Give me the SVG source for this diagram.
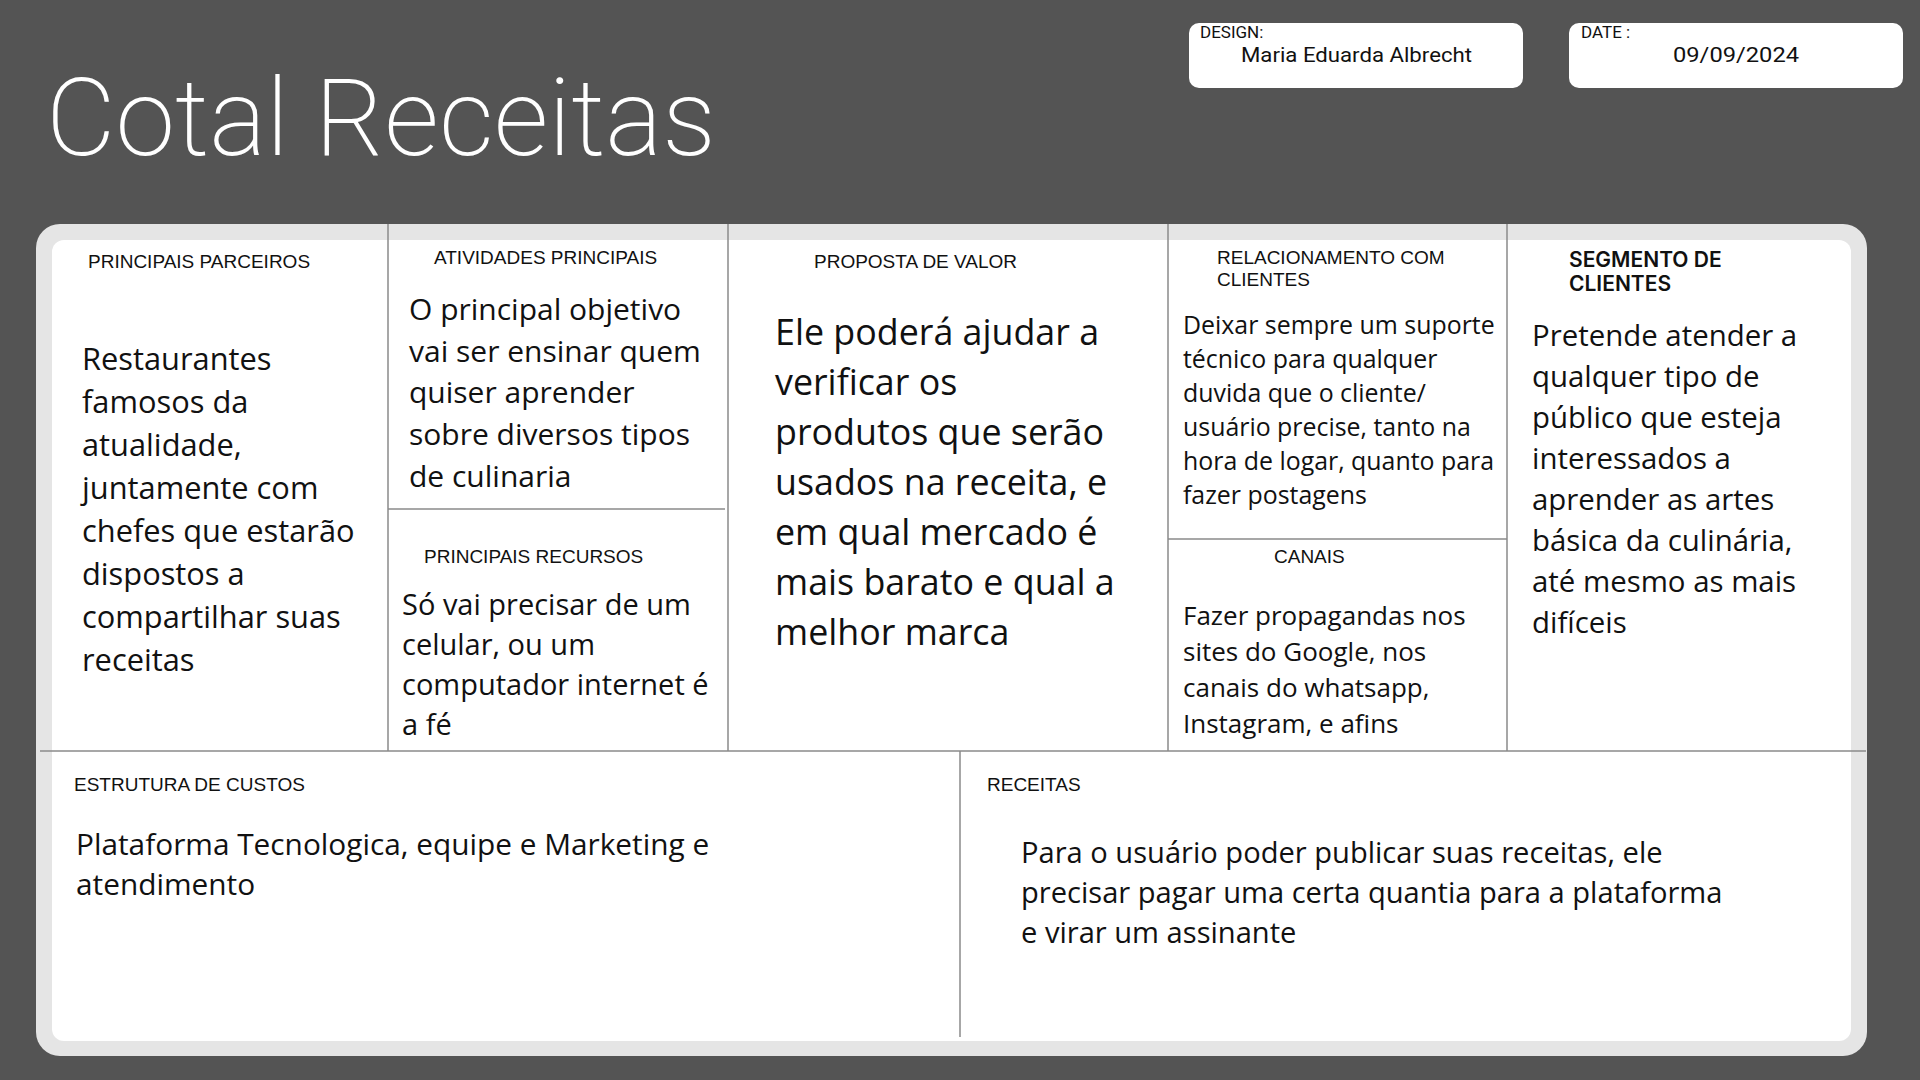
<svg xmlns="http://www.w3.org/2000/svg" width="1920" height="1080" viewBox="0 0 1920 1080">
<style>
.hdr{font-family:"Liberation Sans",Arial,sans-serif;font-size:19px;fill:#111}
.hdrb{font-family:Inter,"Liberation Sans",sans-serif;font-size:21px;font-weight:600;fill:#111}
.body{font-family:"Open Sans","Noto Sans",sans-serif;fill:#111}
.ln{stroke:#8a8a8a;stroke-width:1.5;fill:none}
.meta{font-family:Roboto,"Liberation Sans",sans-serif;fill:#111}
</style>
<rect width="1920" height="1080" fill="#545454"/>
<text x="46" y="155" font-family="Roboto,'Liberation Sans',sans-serif" font-weight="200" font-size="108" fill="#fff" textLength="670" lengthAdjust="spacingAndGlyphs">Cotal Receitas</text>
<g id="design">
<rect x="1189" y="23" width="334" height="65" rx="10" fill="#fff"/>
<text class="meta" x="1200" y="38" font-size="17">DESIGN:</text>
<text class="meta" x="1241" y="62" font-size="21" textLength="231" lengthAdjust="spacingAndGlyphs">Maria Eduarda Albrecht</text>
</g>
<g id="date">
<rect x="1569" y="23" width="334" height="65" rx="10" fill="#fff"/>
<text class="meta" x="1581" y="38" font-size="17">DATE :</text>
<text class="meta" x="1673" y="62" font-size="21" textLength="126" lengthAdjust="spacingAndGlyphs">09/09/2024</text>
</g>
<g id="canvas">
<rect x="36" y="224" width="1831" height="832" rx="24" fill="#e5e5e5"/>
<rect x="52" y="240" width="1799" height="801" rx="12" fill="#fff"/>
</g>
<g id="connectors">
<line class="ln" x1="388" y1="224" x2="388" y2="751"/>
<line class="ln" x1="728" y1="224" x2="728" y2="751"/>
<line class="ln" x1="1168" y1="224" x2="1168" y2="751"/>
<line class="ln" x1="1507" y1="224" x2="1507" y2="751"/>
<line class="ln" x1="40" y1="751" x2="1866" y2="751"/>
<line class="ln" x1="388" y1="509" x2="725" y2="509"/>
<line class="ln" x1="1168" y1="539" x2="1507" y2="539"/>
<line class="ln" x1="960" y1="751" x2="960" y2="1037"/>
</g>
<g id="parceiros">
<text class="hdr" x="88" y="268">PRINCIPAIS PARCEIROS</text>
<text class="body" font-size="30.8">
<tspan x="82" y="370">Restaurantes</tspan>
<tspan x="82" y="413">famosos da</tspan>
<tspan x="82" y="456">atualidade,</tspan>
<tspan x="82" y="499">juntamente com</tspan>
<tspan x="82" y="542">chefes que estarão</tspan>
<tspan x="82" y="585">dispostos a</tspan>
<tspan x="82" y="628">compartilhar suas</tspan>
<tspan x="82" y="671">receitas</tspan>
</text>
</g>
<g id="atividades">
<text class="hdr" x="434" y="264">ATIVIDADES PRINCIPAIS</text>
<text class="body" font-size="30">
<tspan x="409" y="320">O principal objetivo</tspan>
<tspan x="409" y="362">vai ser ensinar quem</tspan>
<tspan x="409" y="403">quiser aprender</tspan>
<tspan x="409" y="445">sobre diversos tipos</tspan>
<tspan x="409" y="487">de culinaria</tspan>
</text>
</g>
<g id="recursos">
<text class="hdr" x="424" y="563">PRINCIPAIS RECURSOS</text>
<text class="body" font-size="29">
<tspan x="402" y="615">Só vai precisar de um</tspan>
<tspan x="402" y="655">celular, ou um</tspan>
<tspan x="402" y="695">computador internet é</tspan>
<tspan x="402" y="735">a fé</tspan>
</text>
</g>
<g id="proposta">
<text class="hdr" x="814" y="268">PROPOSTA DE VALOR</text>
<text class="body" font-size="35.8">
<tspan x="775" y="345">Ele poderá ajudar a</tspan>
<tspan x="775" y="395">verificar os</tspan>
<tspan x="775" y="445">produtos que serão</tspan>
<tspan x="775" y="495">usados na receita, e</tspan>
<tspan x="775" y="545">em qual mercado é</tspan>
<tspan x="775" y="595">mais barato e qual a</tspan>
<tspan x="775" y="645">melhor marca</tspan>
</text>
</g>
<g id="relacionamento">
<text class="hdr" x="1217" y="264">RELACIONAMENTO COM</text>
<text class="hdr" x="1217" y="286">CLIENTES</text>
<text class="body" font-size="24.9">
<tspan x="1183" y="334">Deixar sempre um suporte</tspan>
<tspan x="1183" y="368">técnico para qualquer</tspan>
<tspan x="1183" y="402">duvida que o cliente/</tspan>
<tspan x="1183" y="436">usuário precise, tanto na</tspan>
<tspan x="1183" y="470">hora de logar, quanto para</tspan>
<tspan x="1183" y="504">fazer postagens</tspan>
</text>
</g>
<g id="canais">
<text class="hdr" x="1274" y="563">CANAIS</text>
<text class="body" font-size="26">
<tspan x="1183" y="625">Fazer propagandas nos</tspan>
<tspan x="1183" y="661">sites do Google, nos</tspan>
<tspan x="1183" y="697">canais do whatsapp,</tspan>
<tspan x="1183" y="733">Instagram, e afins</tspan>
</text>
</g>
<g id="segmento">
<text class="hdrb" x="1569" y="267">SEGMENTO DE</text>
<text class="hdrb" x="1569" y="291">CLIENTES</text>
<text class="body" font-size="29.4">
<tspan x="1532" y="346">Pretende atender a</tspan>
<tspan x="1532" y="387">qualquer tipo de</tspan>
<tspan x="1532" y="428">público que esteja</tspan>
<tspan x="1532" y="469">interessados a</tspan>
<tspan x="1532" y="510">aprender as artes</tspan>
<tspan x="1532" y="551">básica da culinária,</tspan>
<tspan x="1532" y="592">até mesmo as mais</tspan>
<tspan x="1532" y="633">difíceis</tspan>
</text>
</g>
<g id="custos">
<text class="hdr" x="74" y="791">ESTRUTURA DE CUSTOS</text>
<text class="body" font-size="29.8">
<tspan x="76" y="855">Plataforma Tecnologica, equipe e Marketing e</tspan>
<tspan x="76" y="895">atendimento</tspan>
</text>
</g>
<g id="receitas">
<text class="hdr" x="987" y="791">RECEITAS</text>
<text class="body" font-size="29.1">
<tspan x="1021" y="863">Para o usuário poder publicar suas receitas, ele</tspan>
<tspan x="1021" y="903">precisar pagar uma certa quantia para a plataforma</tspan>
<tspan x="1021" y="943">e virar um assinante</tspan>
</text>
</g>
</svg>
